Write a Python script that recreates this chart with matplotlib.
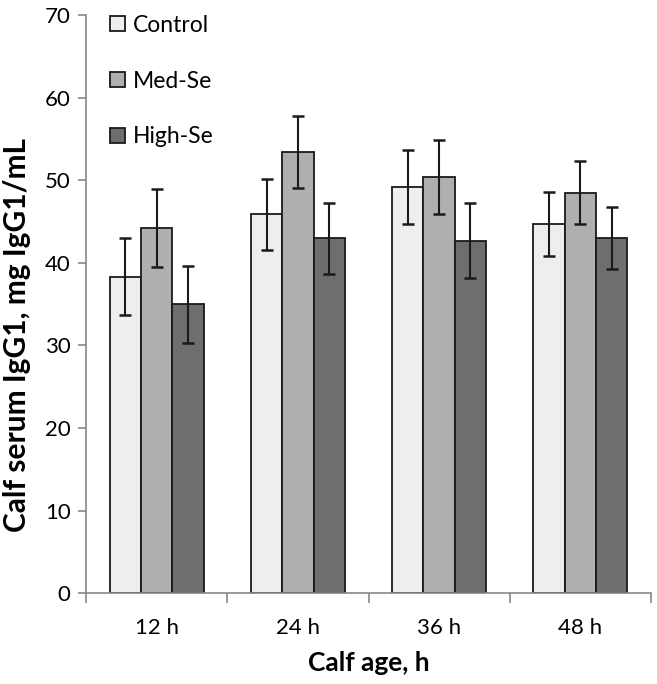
import matplotlib
matplotlib.use("Agg")
import matplotlib.pyplot as plt
import numpy as np

categories = ["12 h", "24 h", "36 h", "48 h"]
series_names = ["Control", "Med-Se", "High-Se"]
control = [38.3, 45.9, 49.2, 44.7]
med_se = [44.2, 53.4, 50.4, 48.5]
high_se = [35.0, 43.0, 42.7, 43.0]
control_err = [4.65, 4.3, 4.5, 3.85]
med_se_err = [4.7, 4.35, 4.5, 3.8]
high_se_err = [4.65, 4.3, 4.5, 3.8]
y_ticks = [0, 10, 20, 30, 40, 50, 60, 70]

plt.rcParams['font.family'] = ['Lato', 'DejaVu Sans']

fig = plt.figure(figsize=(6.57, 6.84), dpi=100)
ax = fig.add_axes([0.1309, 0.1326, 0.86, 0.8455])

colors = ["#EEEEEE", "#AFAFAF", "#6E6E6E"]
vals = [control, med_se, high_se]
errs = [control_err, med_se_err, high_se_err]
x = np.arange(len(categories))
w = 0.222
for i, (v, e, c, n) in enumerate(zip(vals, errs, colors, series_names)):
    ax.bar(x + (i - 1) * w, v, width=w, color=c, edgecolor="#1a1a1a",
           linewidth=1.3, label=n, zorder=2)
    ax.errorbar(x + (i - 1) * w, v, yerr=e, fmt="none", ecolor="#1a1a1a",
                elinewidth=1.5, capsize=4.5, capthick=1.8, zorder=3)

ax.set_xlim(-0.5, len(categories) - 0.5)
ax.set_ylim(0, 70)
ax.set_yticks(y_ticks)
ax.set_xticks(x)
ax.set_xticklabels(categories)
ax.set_xticks(np.arange(len(categories) + 1) - 0.5, minor=True)
ax.tick_params(axis="x", which="major", length=0, pad=18, labelsize=16)
ax.tick_params(axis="x", which="minor", length=7, width=1.2, color="#888888")
ax.tick_params(axis="y", length=6, width=1.2, color="#888888", labelsize=16, pad=5)

for s in ["top", "right"]:
    ax.spines[s].set_visible(False)
for s in ["left", "bottom"]:
    ax.spines[s].set_color("#888888")
    ax.spines[s].set_linewidth(1.2)

ax.set_xlabel("Calf age, h", fontsize=19, fontweight="bold", labelpad=9)
ax.set_ylabel("Calf serum IgG1, mg IgG1/mL", fontsize=21.5, fontweight="bold")
ax.yaxis.set_label_coords(-0.097, 0.447)

leg = ax.legend(loc="upper left", bbox_to_anchor=(0.006, 1.036), frameon=False,
                fontsize=16.5, labelspacing=1.52, handlelength=0.65,
                handleheight=0.65, handletextpad=0.35)

fig.savefig("out.png", dpi=100)
